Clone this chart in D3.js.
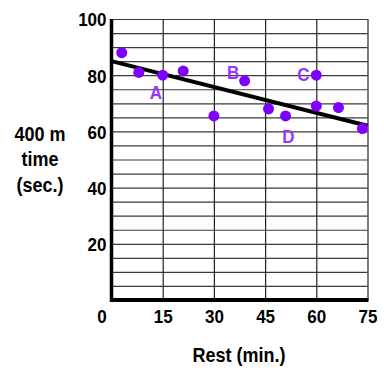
<!DOCTYPE html>
<html>
<head>
<meta charset="utf-8">
<script src="https://cdn.jsdelivr.net/npm/d3@7"></script>
<style>
  body { margin: 0; background: #fff; }
  text { font-family: "Liberation Sans", Arial, sans-serif; }
</style>
</head>
<body>
<svg id="chart" width="384" height="384"></svg>
<script>
// rest minutes vs 400 m time
const restMin = [3, 8, 15, 21, 30, 39, 46, 51, 60, 60, 66.5, 73.5];
const timeSec = [88, 81, 80, 81.5, 65.5, 78, 68, 65.5, 80, 69, 68.5, 61];
const trendX = [0, 75];
const trendY = [85, 62];
const xTicks = [0, 15, 30, 45, 60, 75];
const yTicks = [20, 40, 60, 80, 100];
const pointNames = ["A", "B", "C", "D"];
const nameX = [13, 35.6, 56.2, 51.8];
const nameY = [74, 81.3, 80.4, 58.4];

const margin = { top: 19, right: 16.5, bottom: 84, left: 111.5 };
const svgWidth = 384, svgHeight = 384;
const width = svgWidth - margin.left - margin.right;
const height = svgHeight - margin.top - margin.bottom;
const stretch = 1.13; // text in the picture is a bit tall

const svg = d3.select("#chart");
const g = svg.append("g")
  .attr("transform", "translate(" + margin.left + "," + margin.top + ")");

const x = d3.scaleLinear().domain([0, 75]).range([0, width]);
const y = d3.scaleLinear().domain([0, 100]).range([height, 0]);

// horizontal grid every 5 sec
g.append("g")
  .call(d3.axisLeft(y).tickValues(d3.range(5, 101, 5)).tickSize(-width).tickFormat(""))
  .call(a => a.select(".domain").remove())
  .selectAll("line").attr("stroke", "#3a3a3a").attr("stroke-width", 1.2);

// vertical grid every 15 min
g.append("g")
  .attr("transform", "translate(0," + height + ")")
  .call(d3.axisBottom(x).tickValues([15, 30, 45, 60, 75]).tickSize(-height).tickFormat(""))
  .call(a => a.select(".domain").remove())
  .selectAll("line").attr("stroke", "#222").attr("stroke-width", 1.2);

// thick axes
g.append("line").attr("x1", 0).attr("x2", 0).attr("y1", y(100)).attr("y2", y(0) + 2)
  .attr("stroke", "#000").attr("stroke-width", 3.5);
g.append("line").attr("x1", -1.5).attr("x2", width + 1).attr("y1", height).attr("y2", height)
  .attr("stroke", "#000").attr("stroke-width", 4);

// tick labels
g.append("g")
  .attr("transform", "translate(0," + height + ")")
  .call(d3.axisBottom(x).tickValues(xTicks).tickSize(0))
  .call(a => a.select(".domain").remove())
  .selectAll("text")
  .attr("font-size", 17).attr("font-weight", "bold").attr("fill", "#000")
  .attr("font-family", "Liberation Sans, Arial, sans-serif")
  .attr("y", null).attr("dy", null)
  .attr("transform", d => "translate(" + (d === 0 ? -10 : 0) + ",22.5) scale(1," + stretch + ")");

g.append("g")
  .call(d3.axisLeft(y).tickValues(yTicks).tickSize(0))
  .call(a => a.select(".domain").remove())
  .selectAll("text")
  .attr("font-size", 17).attr("font-weight", "bold").attr("fill", "#000")
  .attr("font-family", "Liberation Sans, Arial, sans-serif")
  .attr("x", null).attr("dy", null)
  .attr("transform", "translate(-5,6.8) scale(1," + stretch + ")");

// trend line
const line = d3.line()
  .x(function (d) { return x(d[0]) })
  .y(function (d) { return y(d[1]) });
g.append("path")
  .datum(d3.zip(trendX, trendY))
  .attr("fill", "none")
  .attr("stroke", "#000")
  .attr("stroke-width", 4)
  .attr("d", line);

// points
g.selectAll("circle")
  .data(d3.zip(restMin, timeSec))
  .join("circle")
  .attr("cx", d => x(d[0]))
  .attr("cy", d => y(d[1]))
  .attr("r", 5.5)
  .attr("fill", "#8000ff");

// point names
g.selectAll(".name")
  .data(pointNames)
  .join("text")
  .attr("class", "name")
  .attr("transform", (d, i) => "translate(" + x(nameX[i]) + "," + (y(nameY[i]) + 7) + ") scale(1," + stretch + ")")
  .attr("text-anchor", "middle")
  .attr("font-size", 17)
  .attr("font-weight", "bold")
  .attr("fill", "#9933ff")
  .text(d => d);

// axis titles
svg.append("text")
  .attr("transform", "translate(239,362) scale(1," + stretch + ")")
  .attr("text-anchor", "middle")
  .attr("font-size", 18).attr("font-weight", "bold")
  .text("Rest (min.)");

["400 m", "time", "(sec.)"].forEach((t, i) => {
  svg.append("text")
    .attr("transform", "translate(40," + (140.7 + i * 25.5) + ") scale(1," + stretch + ")")
    .attr("text-anchor", "middle")
    .attr("font-size", 18).attr("font-weight", "bold")
    .text(t);
});
</script>
</body>
</html>
